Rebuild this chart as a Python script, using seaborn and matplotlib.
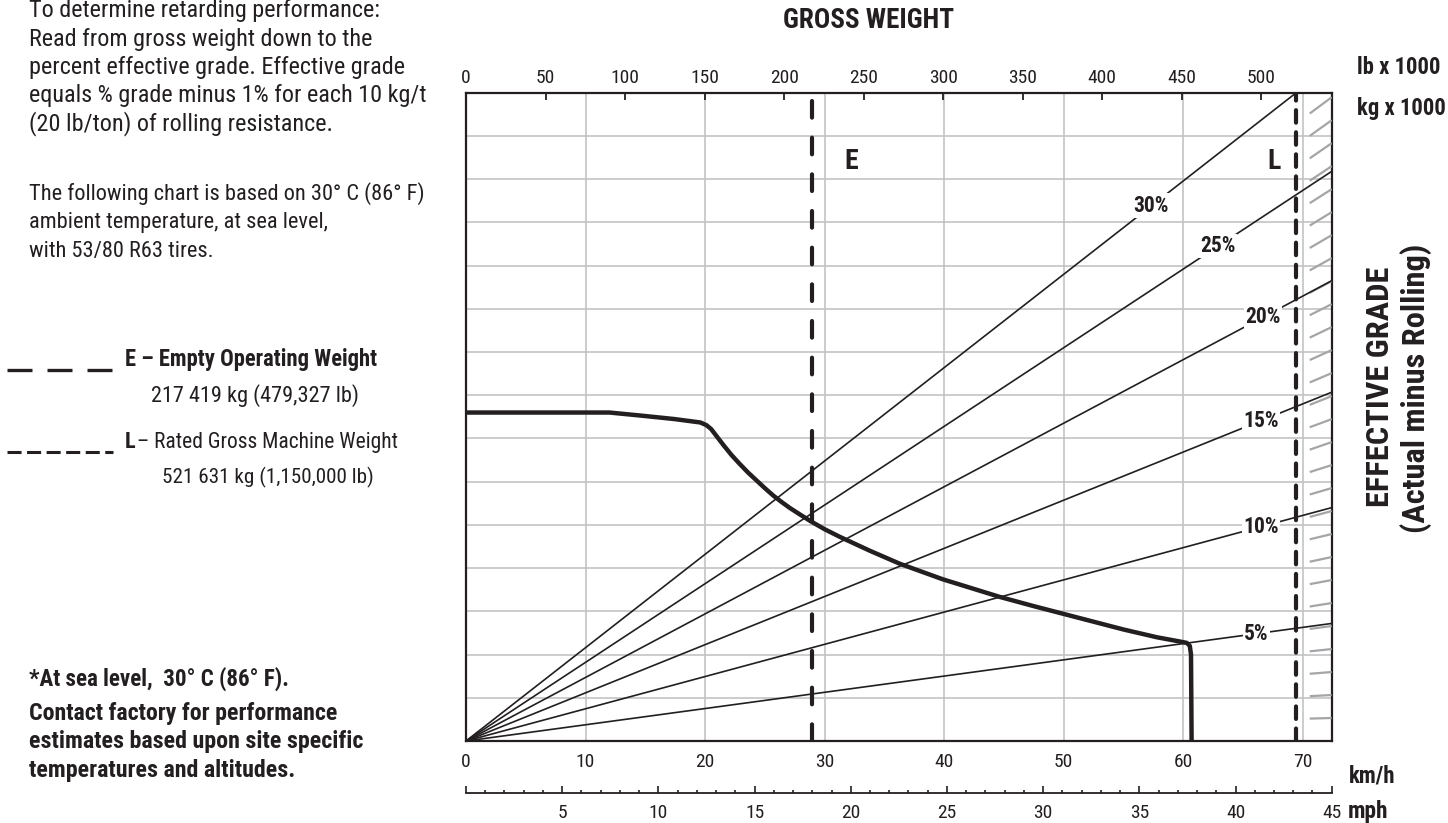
import matplotlib
matplotlib.use("Agg")
import matplotlib.pyplot as plt
from matplotlib import font_manager
from matplotlib.lines import Line2D
from matplotlib.ticker import MultipleLocator
import seaborn as sns

# retarding curve: speed (km/h) against chart height (one unit per grid row)
curve_kmh = [0, 12.0, 14.6, 17.4, 19.6, 20.1, 20.5, 21.0, 21.5, 22.2, 22.9, 23.6,
             24.3, 25.0, 25.7, 26.4, 27.1, 28.0, 28.8, 30.0, 31.3, 33.8, 36.3,
             39.9, 44.7, 47.5, 50.0, 52.5, 55.0, 57.8, 59.75, 60.3, 60.55, 60.65, 60.7]
curve_y = [7.60, 7.60, 7.53, 7.45, 7.37, 7.31, 7.22, 7.04, 6.86, 6.62, 6.41, 6.21,
           6.03, 5.85, 5.68, 5.53, 5.39, 5.23, 5.09, 4.90, 4.72, 4.40, 4.10,
           3.74, 3.33, 3.12, 2.94, 2.76, 2.58, 2.40, 2.30, 2.27, 2.2, 2.0, 0.0]

# effective grade lines: height reached at the right edge, label position (kg x 1000)
grades = [5, 10, 15, 20, 25, 30]
grade_end_y = [2.72, 5.40, 8.07, 10.65, 13.18, 15.64]
grade_label_kg = [497, 500, 500, 501, 473, 431]

# 1% grade ticks in the zone past the rated weight
hatch_grades = list(range(1, 29))
hatch_step = 0.532
hatch_from_kg = 530.5

empty_kg = 217.419
rated_kg = 521.631

kg_ticks = [0, 50, 100, 150, 200, 250, 300, 350, 400, 450, 500]
kmh_ticks = [0, 10, 20, 30, 40, 50, 60, 70]
mph_ticks = [0, 5, 10, 15, 20, 25, 30, 35, 40, 45]
grid_rows = list(range(0, 16))

mph_max = 45
kmh_max = 72.42
kg_max = 544.3
y_max = 15

INK = "#231f20"
GRID = "#c3c3c6"
W, H = 1448, 823

sns.set_style("white")
avail = {f.name for f in font_manager.fontManager.ttflist}
narrow = next(f for f in ["Roboto Condensed", "Liberation Sans Narrow", "DejaVu Sans"] if f in avail)
plt.rcParams["font.family"] = [narrow, "DejaVu Sans"]
plt.rcParams["text.color"] = INK

fig = plt.figure(figsize=(W / 100, H / 100), dpi=100)
ax = fig.add_axes([466 / W, 1 - 741 / H, (1331.7 - 466) / W, (741 - 92.7) / H])


def ftext(x, y, s, **kw):
    fig.text(x / W, 1 - y / H, s, va="baseline", **kw)


# base axes: km/h scale and grid
ax.set_xlim(0, kmh_max)
ax.set_ylim(0, y_max)
ax.set_xticks(kmh_ticks)
ax.set_xticklabels([str(v) for v in kmh_ticks])
ax.set_yticks(grid_rows)
ax.tick_params(axis="x", length=0, pad=8.5, labelsize=14, labelcolor=INK)
ax.tick_params(axis="y", length=0, labelleft=False)
ax.grid(True, color=GRID, lw=1.2)
for sp in ax.spines.values():
    sp.set_color(INK)
    sp.set_linewidth(1.6)

# weight scale on top
axw = ax.twiny()
axw.set_xlim(0, kg_max)
axw.set_xticks(kg_ticks)
axw.set_xticklabels([str(v) for v in kg_ticks])
axw.tick_params(axis="x", direction="in", length=4.8, width=1.3, color=INK,
                pad=4, labelsize=14, labelcolor=INK)
for sp in axw.spines.values():
    sp.set_visible(False)

# mph scale underneath
axm = ax.twiny()
axm.set_xlim(0, mph_max)
axm.xaxis.set_ticks_position("bottom")
axm.spines["bottom"].set_position(("outward", 37.7))
for name, sp in axm.spines.items():
    sp.set_visible(name == "bottom")
    sp.set_color(INK)
    sp.set_linewidth(1.3)
axm.set_xticks(mph_ticks)
axm.set_xticklabels(["" if v == 0 else str(v) for v in mph_ticks])
axm.xaxis.set_minor_locator(MultipleLocator(1))
axm.tick_params(axis="x", which="major", direction="in", length=4.8, width=1.2,
                color=INK, pad=8, labelsize=14, labelcolor=INK)
axm.tick_params(axis="x", which="minor", direction="in", length=2.4, width=1.2, color=INK)

# hatch past the rated weight
for g in hatch_grades:
    yend = g * hatch_step
    axw.plot([hatch_from_kg, kg_max], [yend * hatch_from_kg / kg_max, yend],
             color="#a5a5a8", lw=1.6, solid_capstyle="butt")

# grade lines from the origin
for g, yend, lx in zip(grades, grade_end_y, grade_label_kg):
    sns.lineplot(x=[0, kg_max], y=[0, yend], ax=axw, color=INK, lw=1.2)
    axw.text(lx, yend * lx / kg_max, f"{g}%", ha="center", va="center",
             fontsize=15.5, fontweight="bold",
             bbox=dict(fc="white", ec="none", pad=1.0))

# empty and rated weight markers
axw.axvline(empty_kg, color=INK, lw=3.0, dashes=(4.0, 4.8), dash_capstyle="round")
axw.axvline(rated_kg, color=INK, lw=3.0, dashes=(3.0, 2.3), dash_capstyle="round")
axw.text(242.1, 13.23, "E", ha="center", va="baseline", fontsize=20, fontweight="bold")
axw.text(508.2, 13.23, "L", ha="center", va="baseline", fontsize=20, fontweight="bold")

# retarding curve
curve_kg = [v * kg_max / kmh_max for v in curve_kmh]
sns.lineplot(x=curve_kg, y=curve_y, ax=axw, sort=False, estimator=None, color=INK,
             lw=3.2, solid_capstyle="round", solid_joinstyle="round")
axw.set_ylim(0, y_max)

# axis titles
ftext(869, 28, "GROSS WEIGHT", ha="center", fontsize=19.5, fontweight="bold")
ftext(1357, 74, "lb x 1000", ha="left", fontsize=16.3, fontweight="bold")
ftext(1357, 115, "kg x 1000", ha="left", fontsize=16.3, fontweight="bold")
ftext(1349, 783, "km/h", ha="left", fontsize=16.4, fontweight="bold")
ftext(1348, 818, "mph", ha="left", fontsize=16.8, fontweight="bold")
fig.text(1380 / W, 1 - 387 / H, "EFFECTIVE GRADE", rotation=90, ha="center",
         va="center", fontsize=23.3, fontweight="bold")
fig.text(1416 / W, 1 - 388 / H, "(Actual minus Rolling)", rotation=90, ha="center",
         va="center", fontsize=23.3, fontweight="bold")

# notes on the left
intro = ["To determine retarding performance:",
         "Read from gross weight down to the",
         "percent effective grade. Effective grade",
         "equals % grade minus 1% for each 10 kg/t",
         "(20 lb/ton) of rolling resistance."]
for i, line in enumerate(intro):
    ftext(29, 17.3 + 28.3 * i, line, fontsize=17.4)
basis = ["The following chart is based on 30\u00b0 C (86\u00b0 F)",
         "ambient temperature, at sea level,",
         "with 53/80 R63 tires."]
for i, line in enumerate(basis):
    ftext(29, 200 + 28.3 * i, line, fontsize=16.1)

fig.add_artist(Line2D([7 / W, 113 / W], [1 - 370 / H] * 2, color=INK, lw=2.4,
                      dashes=(7.5, 4.5), dash_capstyle="butt"))
ftext(125, 365.7, "E \u2013 Empty Operating Weight", fontsize=16.3, fontweight="bold")
ftext(150.7, 401.7, "217 419 kg (479,327 lb)", fontsize=16)
fig.add_artist(Line2D([7 / W, 113 / W], [1 - 451.7 / H] * 2, color=INK, lw=2.2,
                      dashes=(4.6, 1.8), dash_capstyle="butt"))
ftext(125, 447.7, "L", fontsize=16, fontweight="bold")
ftext(137, 447.7, "\u2013 Rated Gross Machine Weight", fontsize=15.5)
ftext(162, 483.3, "521 631 kg (1,150,000 lb)", fontsize=15.2)

notes = [(685.7, "*At sea level,  30\u00b0 C (86\u00b0 F).", 16.6),
         (720, "Contact factory for performance", 17.2),
         (748.3, "estimates based upon site specific", 17.3),
         (776.7, "temperatures and altitudes.", 17.3)]
for y, line, size in notes:
    ftext(29, y, line, fontsize=size, fontweight="bold")

fig.savefig("out.png", dpi=100)
